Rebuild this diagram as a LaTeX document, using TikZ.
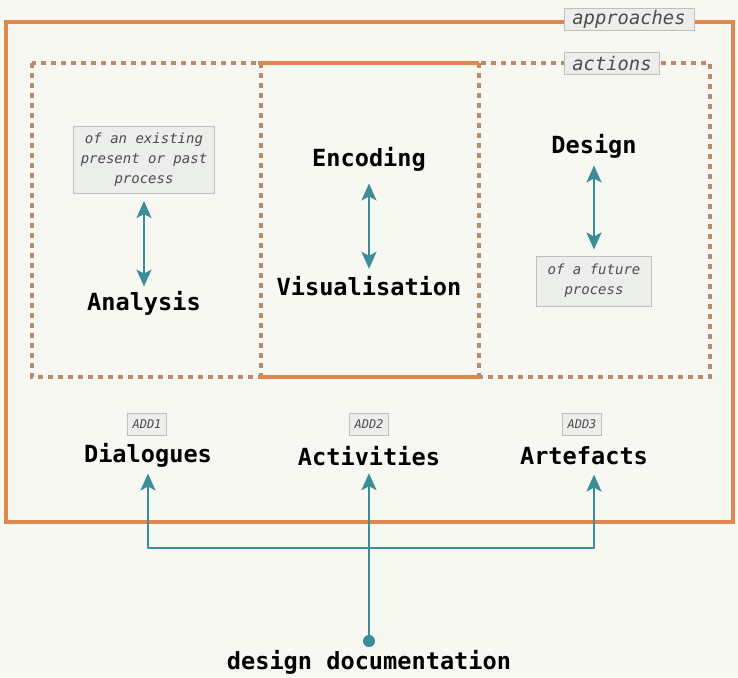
\documentclass[tikz,border=0pt]{standalone}
\usepackage{fontspec}
\setmonofont{DejaVu Sans Mono}
\usetikzlibrary{arrows.meta}
\definecolor{bgcol}{HTML}{F8F8F3}
\definecolor{appcol}{HTML}{E0864F}
\definecolor{actcol}{HTML}{BA8A6C}
\definecolor{linkcol}{HTML}{3B8D98}
\definecolor{tagfill}{HTML}{ECEEEB}
\tikzset{
	lbl/.style={text=black, inner sep=0pt, font=\ttfamily\bfseries\fontsize{11.8}{14}\selectfont},
	tag/.style={draw=black!25, line width=.5pt, fill=tagfill, text=black!70, inner sep=0pt, align=center, font=\ttfamily\itshape\fontsize{#1}{10}\selectfont},
	tag/.default=7,
	actline/.style={actcol, line width=1.8pt, dash pattern=on 2.5pt off 2.5pt},
	link/.style={linkcol, line width=1.2pt, line join=round},
	tip/.style={-{Stealth[length=8.5pt,width=7.5pt,inset=2pt]}},
	dtip/.style={{Stealth[length=8.5pt,width=7.5pt,inset=2pt]}-{Stealth[length=8.5pt,width=7.5pt,inset=2pt]}}
}
\begin{document}
\begin{tikzpicture}[x=.5pt, y=-.5pt]
	\fill[bgcol](0,0)rectangle(738,677);
	\useasboundingbox(0,0)rectangle(738,677);
	% approaches and actions
	\draw[appcol, line width=2pt](6,22)rectangle(733,522);
	\draw[actline](32,63)rectangle(710,377);
	\draw[actline](261,63)--(261,377);
	\draw[actline](479,63)--(479,377);
	\draw[appcol, line width=1.6pt](258,63)--(479,63);
	\draw[appcol, line width=1.6pt](258,377)--(479,377);
	\node[tag=9.4, minimum width=65pt, minimum height=11pt] (appr) at (629,19) {approaches};
	\node[tag=9.4, minimum width=47.5pt, minimum height=11pt] (act) at (612,63) {actions};
	% columns
	\node[tag, minimum width=70.5pt, minimum height=33.5pt] (past) at (144,160) {of an existing\\present or past\\process};
	\node[lbl] (ana) at (144,303) {Analysis};
	\node[lbl] (enc) at (369,159) {Encoding};
	\node[lbl] (vis) at (369,286) {Visualisation};
	\node[lbl] (des) at (594,146) {Design};
	\node[tag, minimum width=57.5pt, minimum height=25pt] (fut) at (594,281) {of a future\\process};
	\draw[link, dtip, shorten <=3.5pt, shorten >=2pt](past)--(ana);
	\draw[link, dtip, shorten <=6pt, shorten >=3.5pt](enc)--(vis);
	\draw[link, dtip, shorten <=3.5pt, shorten >=3pt](des)--(fut);
	% documentation
	\node[tag=6, minimum width=19.5pt, minimum height=11pt] (add1) at (147,424) {ADD1};
	\node[tag=6, minimum width=19.5pt, minimum height=11pt] (add2) at (369,424) {ADD2};
	\node[tag=6, minimum width=19.5pt, minimum height=11pt] (add3) at (582,424) {ADD3};
	\node[lbl] (dia) at (148,455) {Dialogues};
	\node[lbl] (acti) at (369,456) {Activities};
	\node[lbl] (art) at (584,456) {Artefacts};
	\node[circle, fill=linkcol, minimum size=6pt, inner sep=0pt] (dot) at (369,641) {};
	\node[lbl] (doc) at (369,662) {design documentation};
	\coordinate (hub) at (369,548);
	\draw[link, tip, shorten >=3.5pt](dot)--(acti);
	\draw[link, tip, shorten >=3pt](hub)-|(dia);
	\draw[link, tip, shorten >=4.5pt](hub)-|([xshift=5pt]art.south);
\end{tikzpicture}
\end{document}
